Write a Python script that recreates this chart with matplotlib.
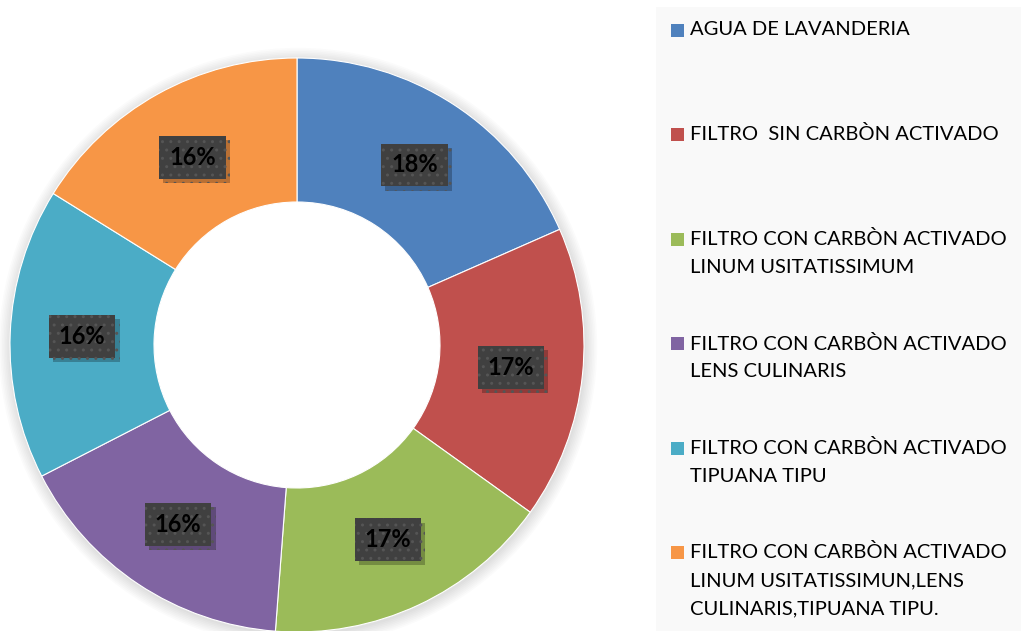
"""Donut chart: share of each water sample / filter type."""

import numpy as np
import matplotlib.pyplot as plt
from matplotlib.patches import Rectangle, Circle
import matplotlib.patheffects as pe

plt.rcParams["font.family"] = ["Lato", "DejaVu Sans"]

categories = [
    "AGUA DE LAVANDERIA",
    "FILTRO  SIN CARBÒN ACTIVADO",
    "FILTRO CON CARBÒN ACTIVADO\nLINUM USITATISSIMUM",
    "FILTRO CON CARBÒN ACTIVADO\nLENS CULINARIS",
    "FILTRO CON CARBÒN ACTIVADO\nTIPUANA TIPU",
    "FILTRO CON CARBÒN ACTIVADO\nLINUM USITATISSIMUN,LENS\nCULINARIS,TIPUANA TIPU.",
]
values = [18.4, 16.5, 16.3, 16.25, 16.4, 16.15]
pct_labels = ["18%", "17%", "17%", "16%", "16%", "16%"]
colors = ["#4F81BD", "#C0504D", "#9BBB59", "#8064A2", "#4BACC6", "#F79646"]

W, H = 1021, 631
fig = plt.figure(figsize=(W / 100, H / 100), dpi=100)
fig.patch.set_facecolor("white")

# whole figure in pixel units (y up)
ax = fig.add_axes([0, 0, 1, 1])

cx, cy = 297, H - 345
r_out, r_in = 287, 143

# soft shadow round the ring
for i in range(8):
    ax.add_patch(Circle((cx + 1, cy - 2), r_out + 1 + i * 1.6,
                        facecolor="black", alpha=0.016, edgecolor="none",
                        zorder=1))
ax.add_patch(Circle((cx, cy), r_in, facecolor="white", edgecolor="none",
                    zorder=1.5))

wedges, _ = ax.pie(
    values,
    colors=colors,
    startangle=90,
    counterclock=False,
    radius=r_out,
    center=(cx, cy),
    wedgeprops=dict(width=r_out - r_in, edgecolor="white", linewidth=0.8),
    frame=True,
)
for w in wedges:
    w.set_zorder(2)
ax.set_xlim(0, W)
ax.set_ylim(0, H)
ax.set_aspect("equal")
ax.axis("off")

# legend panel
ax.add_patch(Rectangle((656, 0), W - 656, H - 7, facecolor="#f9f9f9",
                       edgecolor="none", zorder=0.5))

r_lab = (r_out + r_in) / 2
for w, lab in zip(wedges, pct_labels):
    ang = np.deg2rad((w.theta1 + w.theta2) / 2)
    x = cx + r_lab * np.cos(ang)
    y = cy + r_lab * np.sin(ang)
    t = ax.text(x, y, lab, ha="center", va="center", fontsize=17,
                fontweight="bold", color="black", zorder=5,
                bbox=dict(boxstyle="square,pad=0.42", facecolor="#404040",
                          edgecolor="#555555", hatch="..", linewidth=0))
    t.get_bbox_patch().set_path_effects(
        [pe.SimplePatchShadow(offset=(3, -3), shadow_rgbFace="black",
                              alpha=0.25), pe.Normal()])

# legend, drawn by hand to keep Excel-like spacing
y0 = 30
step = 104.5
for i, (lab, c) in enumerate(zip(categories, colors)):
    yy = H - (y0 + i * step)
    ax.add_patch(Rectangle((671, yy - 6.5), 13, 13, facecolor=c,
                           edgecolor="none", zorder=3))
    ax.text(690, yy + 9, lab, ha="left", va="top", fontsize=14.5,
            color="black", linespacing=1.78, zorder=3)

fig.savefig("out.png", dpi=100)
